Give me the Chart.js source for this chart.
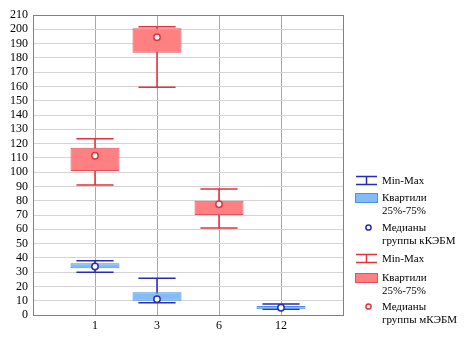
<!DOCTYPE html>
<html>
<head>
<meta charset="utf-8">
<script src="https://cdn.jsdelivr.net/npm/chart.js@4"></script>
<style>
  body { margin: 0; background: #fff; }
  #wrap { position: relative; width: 475px; height: 341px; }
  #legend { position: absolute; left: 355px; top: 0; font-family: 'Liberation Serif', serif; font-size: 11px; color: #000; }
  .item { position: absolute; left: 0; width: 120px; }
  .txt { position: absolute; left: 27px; line-height: 13px; white-space: nowrap; }
  .ico { position: absolute; }
</style>
</head>
<body>
<div id="wrap">
  <canvas id="chart" width="475" height="341"></canvas>
  <div id="legend"></div>
</div>
<script>
const categories = ['1', '3', '6', '12'];
const positions = [1, 2, 3, 4];

// группа кКЭБМ (синяя)
const blueMin = [30, 8.6, null, 4];
const blueMax = [38, 25.7, null, 7.7];
const blueQ1 = [32.7, 10, null, 4];
const blueQ3 = [36.2, 15.9, null, 6.3];
const blueMedian = [34, 11, null, 5.1];

// группа мКЭБМ (красная)
const redMin = [91, 159.4, 60.9, null];
const redMax = [123.4, 201.8, 88.2, null];
const redQ1 = [100.8, 183.6, 70, null];
const redQ3 = [117.1, 200.7, 80, null];
const redMedian = [111.5, 194.4, 77.5, null];

const yTicksMax = 210;
const legendLabels = ['Min-Max', 'Квартили<br>25%-75%', 'Медианы<br>группы кКЭБМ', 'Min-Max', 'Квартили<br>25%-75%', 'Медианы<br>группы мКЭБМ'];

const BLUE_LINE = '#2a2ab8';
const BLUE_FILL = '#80bdf8';
const BLUE_EDGE = '#4f8fe0';
const RED_LINE = '#e4323e';
const RED_FILL = '#ff8080';
const RED_EDGE = '#e05060';

function boxes(q1, q3) {
    return positions.map((x, i) => q1[i] == null ? null : { x: x, y: [q1[i], q3[i]] }).filter(d => d);
}
function points(med) {
    return positions.map((x, i) => med[i] == null ? null : { x: x, y: med[i] }).filter(d => d);
}

// усы min-max рисуем через шкалы графика
const whiskers = {
    id: 'whiskers',
    beforeDatasetsDraw(chart) {
        const ctx = chart.ctx;
        const xs = chart.scales.x, ys = chart.scales.y;
        const capHalf = (xs.getPixelForValue(1) - xs.getPixelForValue(0)) * 0.3;
        [[blueMin, blueMax, BLUE_LINE], [redMin, redMax, RED_LINE]].forEach(([mn, mx, color]) => {
            ctx.save();
            ctx.strokeStyle = color;
            ctx.lineWidth = 1.5;
            positions.forEach((p, i) => {
                if (mn[i] == null) return;
                const x = xs.getPixelForValue(p);
                const y1 = ys.getPixelForValue(mn[i]);
                const y2 = ys.getPixelForValue(mx[i]);
                ctx.beginPath();
                ctx.moveTo(x, y1); ctx.lineTo(x, y2);
                ctx.moveTo(x - capHalf, y1); ctx.lineTo(x + capHalf, y1);
                ctx.moveTo(x - capHalf, y2); ctx.lineTo(x + capHalf, y2);
                ctx.stroke();
            });
            ctx.restore();
        });
    },
    afterDraw(chart) {
        const a = chart.chartArea, ctx = chart.ctx;
        ctx.save();
        ctx.strokeStyle = '#808080';
        ctx.lineWidth = 1;
        ctx.strokeRect(Math.round(a.left) + 0.5, Math.round(a.top) + 0.5, Math.round(a.right - a.left), Math.round(a.bottom - a.top));
        ctx.restore();
    }
};

new Chart(document.getElementById('chart'), {
    type: 'bar',
    data: {
        datasets: [
            { type: 'scatter', data: points(blueMedian), pointStyle: 'circle', pointRadius: 3.2, backgroundColor: '#fff', borderColor: BLUE_LINE, borderWidth: 1.5, order: 0 },
            { type: 'scatter', data: points(redMedian), pointStyle: 'circle', pointRadius: 3.2, backgroundColor: '#fff', borderColor: RED_LINE, borderWidth: 1.5, order: 0 },
            { data: boxes(blueQ1, blueQ3), backgroundColor: BLUE_FILL, borderColor: BLUE_EDGE, borderWidth: 1, borderSkipped: false, grouped: false, barPercentage: 0.79, categoryPercentage: 1, order: 1 },
            { data: boxes(redQ1, redQ3), backgroundColor: RED_FILL, borderColor: RED_EDGE, borderWidth: 1, borderSkipped: false, grouped: false, barPercentage: 0.79, categoryPercentage: 1, order: 1 }
        ]
    },
    options: {
        responsive: false,
        animation: false,
        layout: { padding: { left: 0, top: 15, right: 132, bottom: 0 } },
        plugins: { legend: { display: false }, tooltip: { enabled: false } },
        scales: {
            x: {
                type: 'linear', min: 0, max: 5, offset: false,
                afterFit: s => { s.height = 26; },
                ticks: {
                    stepSize: 1, autoSkip: false, maxRotation: 0, padding: 4,
                    color: '#000', font: { family: 'Liberation Serif', size: 12 },
                    callback: v => categories[v - 1] || ''
                },
                grid: { offset: false, drawTicks: false, color: ctx => (ctx.tick && ctx.tick.value > 0 && ctx.tick.value < 5) ? '#a8a8a8' : 'rgba(0,0,0,0)' },
                border: { display: false }
            },
            y: {
                min: 0, max: yTicksMax,
                afterFit: s => { s.width = 33; },
                ticks: { stepSize: 10, autoSkip: false, padding: 5, color: '#000', font: { family: 'Liberation Serif', size: 12 } },
                grid: { drawTicks: false, color: '#d4d4d4' },
                border: { display: false }
            }
        }
    },
    plugins: [whiskers]
});

// легенда справа
const legend = document.getElementById('legend');
const rows = [174, 191, 221, 252, 271, 300];
const kinds = ['mm', 'box', 'dot', 'mm', 'box', 'dot'];
legendLabels.forEach((label, i) => {
    const blue = i < 3;
    const line = blue ? BLUE_LINE : RED_LINE;
    const item = document.createElement('div');
    item.className = 'item';
    item.style.top = rows[i] + 'px';
    let ico = '';
    if (kinds[i] === 'mm') {
        ico = `<svg class="ico" style="left:0;top:1px" width="23" height="11"><path d="M1 1.5H22M1 9.5H22M11.5 1.5V9.5" stroke="${line}" stroke-width="1.5" fill="none"/></svg>`;
    } else if (kinds[i] === 'box') {
        ico = `<div class="ico" style="left:0;top:2px;width:21px;height:8px;background:${blue ? BLUE_FILL : RED_FILL};border:1px solid ${blue ? BLUE_EDGE : RED_EDGE}"></div>`;
    } else {
        ico = `<svg class="ico" style="left:9px;top:2px" width="9" height="9"><circle cx="4.5" cy="4.5" r="2.6" stroke="${line}" stroke-width="1.5" fill="#fff"/></svg>`;
    }
    item.innerHTML = ico + `<div class="txt" style="top:0">${label}</div>`;
    legend.appendChild(item);
});
</script>
</body>
</html>
